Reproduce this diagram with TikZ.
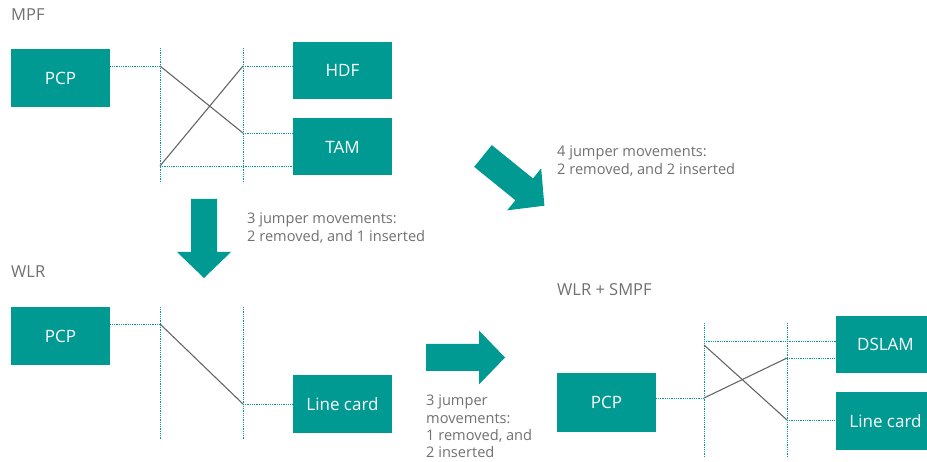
\documentclass[tikz,border=0pt]{standalone}
\usepackage{fontspec}
\setmainfont{Open Sans}
\definecolor{tealbox}{HTML}{009A93}
\definecolor{txtgray}{HTML}{707070}
\definecolor{jgray}{HTML}{666666}
\begin{document}
\begin{tikzpicture}[x=1pt,y=-1pt,
  box/.style={fill=tealbox,text=white,minimum width=99pt,inner sep=0pt,font=\fontsize{17}{20}\selectfont},
  rail/.style={draw=tealbox,line width=0.8pt,dash pattern=on 0.9pt off 0.9pt},
  jumper/.style={draw=jgray,line width=1.1pt},
  ttl/.style={text=txtgray,anchor=north west,inner sep=0pt,font=\fontsize{16.5}{19}\selectfont},
  lbl/.style={text=txtgray,anchor=north west,inner sep=0pt,align=left,font=\fontsize{14.6}{17.3}\selectfont},
  bigarrow/.style={fill=tealbox}]
\useasboundingbox (0,0) rectangle (927,462);

% ---------------- MPF ----------------
\node[ttl] (tmpf) at (11,9) {MPF};
\node[box,minimum height=58pt] (pcpA) at (60.5,78) {PCP};
\node[box,minimum height=57pt] (hdf) at (342.5,70.5) {HDF};
\node[box,minimum height=57pt] (tam) at (342.5,147) {TAM};
\coordinate (a1t) at (160,48); \coordinate (a1b) at (160,183);
\coordinate (a2t) at (243,48); \coordinate (a2b) at (243,183);
\draw[rail] (a1t) -- (a1b);
\draw[rail] (a2t) -- (a2b);
\coordinate (aL1) at (160,66); \coordinate (aL2) at (160,166);
\coordinate (aR1) at (243,66); \coordinate (aR2) at (243,133);
\draw[rail] (pcpA.east |- aL1) -- (aL1);
\draw[rail] (aR1) -- (hdf.west |- aR1);
\draw[rail] (aR2) -- (tam.west |- aR2);
\draw[rail] (aL2) -- (tam.west |- aL2);
\draw[jumper] (aL1) -- (aR2);
\draw[jumper] (aL2) -- (aR1);

% ---------------- arrows ----------------
\fill[bigarrow,shift={(204,199)},rotate=-90] (0,-13) -- (53,-13) -- (53,-27) -- (79,0) -- (53,27) -- (53,13) -- (0,13) -- cycle;
\fill[bigarrow,shift={(426,357.5)}] (0,-13.5) -- (53,-13.5) -- (53,-27) -- (79,0) -- (53,27) -- (53,13.5) -- (0,13.5) -- cycle;
\fill[bigarrow,shift={(483,156)},rotate=-39] (0,-14) -- (53,-14) -- (53,-27) -- (79,0) -- (53,27) -- (53,14) -- (0,14) -- cycle;

\node[lbl] (m1) at (247,213) {3 jumper movements:\\2 removed, and 1 inserted};
\node[lbl] (m2) at (557,146) {4 jumper movements:\\2 removed, and 2 inserted};
\node[lbl] (m3) at (426,395) {3 jumper\\movements:\\1 removed, and\\2 inserted};

% ---------------- WLR ----------------
\node[ttl] (twlr) at (11,266) {WLR};
\node[box,minimum height=58pt] (pcpB) at (60.5,336) {PCP};
\node[box,minimum height=58pt] (lcB) at (342.5,404) {Line card};
\coordinate (b1t) at (160,307); \coordinate (b1b) at (160,440);
\coordinate (b2t) at (243,307); \coordinate (b2b) at (243,440);
\draw[rail] (b1t) -- (b1b);
\draw[rail] (b2t) -- (b2b);
\coordinate (bL1) at (160,324); \coordinate (bR1) at (243,404);
\draw[rail] (pcpB.east |- bL1) -- (bL1);
\draw[rail] (bR1) -- (lcB.west |- bR1);
\draw[jumper] (bL1) -- (bR1);

% ---------------- WLR + SMPF ----------------
\node[ttl] (tsmpf) at (557,283) {WLR + SMPF};
\node[box,minimum height=59pt] (pcpC) at (606.5,402.5) {PCP};
\node[box,minimum height=57pt] (dslam) at (885.5,344.5) {DSLAM};
\node[box,minimum height=58pt] (lcC) at (885.5,421) {Line card};
\coordinate (c1t) at (704,323); \coordinate (c1b) at (704,457);
\coordinate (c2t) at (787,323); \coordinate (c2b) at (787,457);
\draw[rail] (c1t) -- (c1b);
\draw[rail] (c2t) -- (c2b);
\coordinate (cL0) at (704,341);
\coordinate (cL1) at (704,345); \coordinate (cL2) at (704,398);
\coordinate (cR1) at (787,358); \coordinate (cR2) at (787,420);
\draw[rail] (pcpC.east |- cL2) -- (cL2);
\draw[rail] (cL0) -- (dslam.west |- cL0);
\draw[rail] (cR1) -- (dslam.west |- cR1);
\draw[rail] (cR2) -- (lcC.west |- cR2);
\draw[jumper] (cL1) -- (cR2);
\draw[jumper] (cL2) -- (cR1);
\end{tikzpicture}
\end{document}
